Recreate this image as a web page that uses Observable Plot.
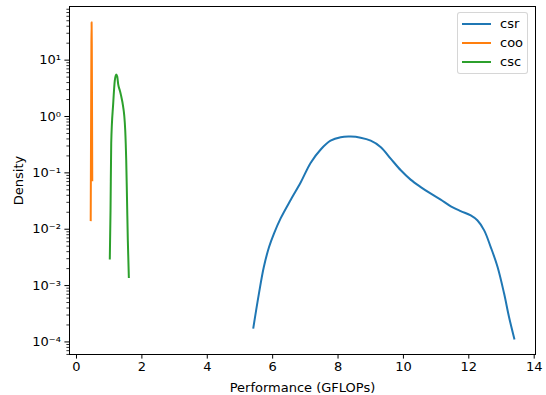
<!DOCTYPE html>
<html>
<head>
<meta charset="utf-8">
<script src="https://cdn.jsdelivr.net/npm/d3@7"></script>
<script src="https://cdn.jsdelivr.net/npm/@observablehq/plot@0.6"></script>
<style>
  html, body { margin: 0; padding: 0; background: white; }
  #wrap { position: relative; width: 546px; height: 395px; font-family: "DejaVu Sans", sans-serif; }
  .legend { position: absolute; left: 457px; top: 12px; width: 71px; height: 62px; box-sizing: border-box;
            border: 1px solid rgba(204,204,204,0.8); border-radius: 3px; background: rgba(255,255,255,0.8); }
  .legend .sw { position: absolute; left: 4px; width: 29px; height: 0; border-top: 2px solid; margin-top: -1px; }
  .legend .lb { position: absolute; left: 42px; font-size: 13px; line-height: 13px; margin-top: -7px; color: black; }
</style>
</head>
<body>
<div id="wrap"></div>
<script>
// ---- data ----
const seriesNames = ["csr", "coo", "csc"];

const csrX = [5.41, 5.58, 5.73, 5.89, 6.04, 6.24, 6.55, 6.86, 7.16, 7.47, 7.77, 8.08, 8.39, 8.69, 9.00, 9.31, 9.61, 9.92, 10.22, 10.53, 10.84, 11.14, 11.45, 11.75, 12.06, 12.26, 12.47, 12.67, 12.88, 13.08, 13.23, 13.39];
const csrY = [1.80e-4, 7.21e-4, 2.14e-3, 4.83e-3, 8.36e-3, 0.0154, 0.0330, 0.0680, 0.150, 0.260, 0.372, 0.430, 0.440, 0.420, 0.372, 0.286, 0.179, 0.111, 0.0759, 0.0560, 0.0427, 0.0335, 0.0255, 0.0210, 0.0176, 0.0144, 0.00955, 0.00483, 0.00214, 7.21e-4, 2.77e-4, 1.15e-4];

const cooX = [0.435, 0.447, 0.456, 0.462, 0.468, 0.476, 0.482];
const cooY = [0.0145, 1.0, 20, 47, 20, 1.0, 0.0736];

const cscX = [1.019, 1.041, 1.062, 1.123, 1.172, 1.215, 1.246, 1.276, 1.325, 1.362, 1.429, 1.460, 1.491, 1.521, 1.546, 1.570, 1.601];
const cscY = [0.00301, 0.0216, 0.333, 1.71, 4.38, 5.57, 5.14, 3.71, 2.90, 2.37, 1.47, 1.05, 0.566, 0.167, 0.0324, 0.00635, 0.00142];

const xTicks = [0, 2, 4, 6, 8, 10, 12, 14];
const yExponents = [-4, -3, -2, -1, 0, 1];

// ---- build table ----
const seriesXY = {csr: [csrX, csrY], coo: [cooX, cooY], csc: [cscX, cscY]};
const rows = seriesNames.flatMap(name => {
  const [xs, ys] = seriesXY[name];
  return xs.map((x, i) => ({series: name, x, y: ys[i]}));
});

const colors = ["#1f77b4", "#ff7f0e", "#2ca02c"];
const yMajor = yExponents.map(e => Math.pow(10, e));
const yDomain = [Math.pow(10, -4.223), Math.pow(10, 1.952)];
const yMinor = [];
for (let e = -5; e <= 1; e++) for (let m = 2; m <= 9; m++) {
  const v = m * Math.pow(10, e);
  if (v >= yDomain[0] && v <= yDomain[1]) yMinor.push(v);
}
const sup = {"-": "\u207B", "0": "\u2070", "1": "\u00B9", "2": "\u00B2", "3": "\u00B3", "4": "\u2074", "5": "\u2075", "6": "\u2076", "7": "\u2077", "8": "\u2078", "9": "\u2079"};
const fmtPow = v => "10" + String(Math.round(Math.log10(v))).split("").map(c => sup[c]).join("");

const chart = Plot.plot({
  width: 546,
  height: 395,
  marginLeft: 69,
  marginRight: 11,
  marginTop: 6,
  marginBottom: 41,
  style: {fontFamily: "DejaVu Sans, sans-serif", fontSize: "13px", color: "black", background: "white", overflow: "visible"},
  x: {domain: [-0.214, 14.04]},
  y: {type: "log", domain: yDomain},
  color: {domain: seriesNames, range: colors},
  marks: [
    Plot.axisY(yMinor, {tickSize: 2.6, tickFormat: () => "", label: null, strokeWidth: 0.8}),
    Plot.axisY(yMajor, {tickSize: 4.6, tickPadding: 4, tickFormat: fmtPow, label: "Density", labelAnchor: "center", labelOffset: 56, labelArrow: false, strokeWidth: 1}),
    Plot.axisX(xTicks, {tickSize: 4.6, tickPadding: 3, tickFormat: d => String(d), label: "Performance (GFLOPs)", labelAnchor: "center", labelOffset: 37, labelArrow: false, strokeWidth: 1}),
    Plot.line(rows.filter(d => d.series === "csr"), {x: "x", y: "y", z: "series", stroke: "series", strokeWidth: 2, curve: "catmull-rom", strokeLinecap: "square"}),
    Plot.line(rows.filter(d => d.series !== "csr"), {x: "x", y: "y", z: "series", stroke: "series", strokeWidth: 2, curve: "monotone-x", strokeLinecap: "square"}),
    Plot.frame({stroke: "black", strokeWidth: 1})
  ]
});

const wrap = document.getElementById("wrap");
wrap.appendChild(chart);

// legend (inside the axes, upper right)
const legend = document.createElement("div");
legend.className = "legend";
seriesNames.forEach((name, i) => {
  const cy = 11 + i * 19.2;
  const sw = document.createElement("div");
  sw.className = "sw";
  sw.style.top = cy + "px";
  sw.style.borderTopColor = colors[i];
  const lb = document.createElement("div");
  lb.className = "lb";
  lb.style.top = cy + "px";
  lb.textContent = name;
  legend.appendChild(sw);
  legend.appendChild(lb);
});
wrap.appendChild(legend);
</script>
</body>
</html>
